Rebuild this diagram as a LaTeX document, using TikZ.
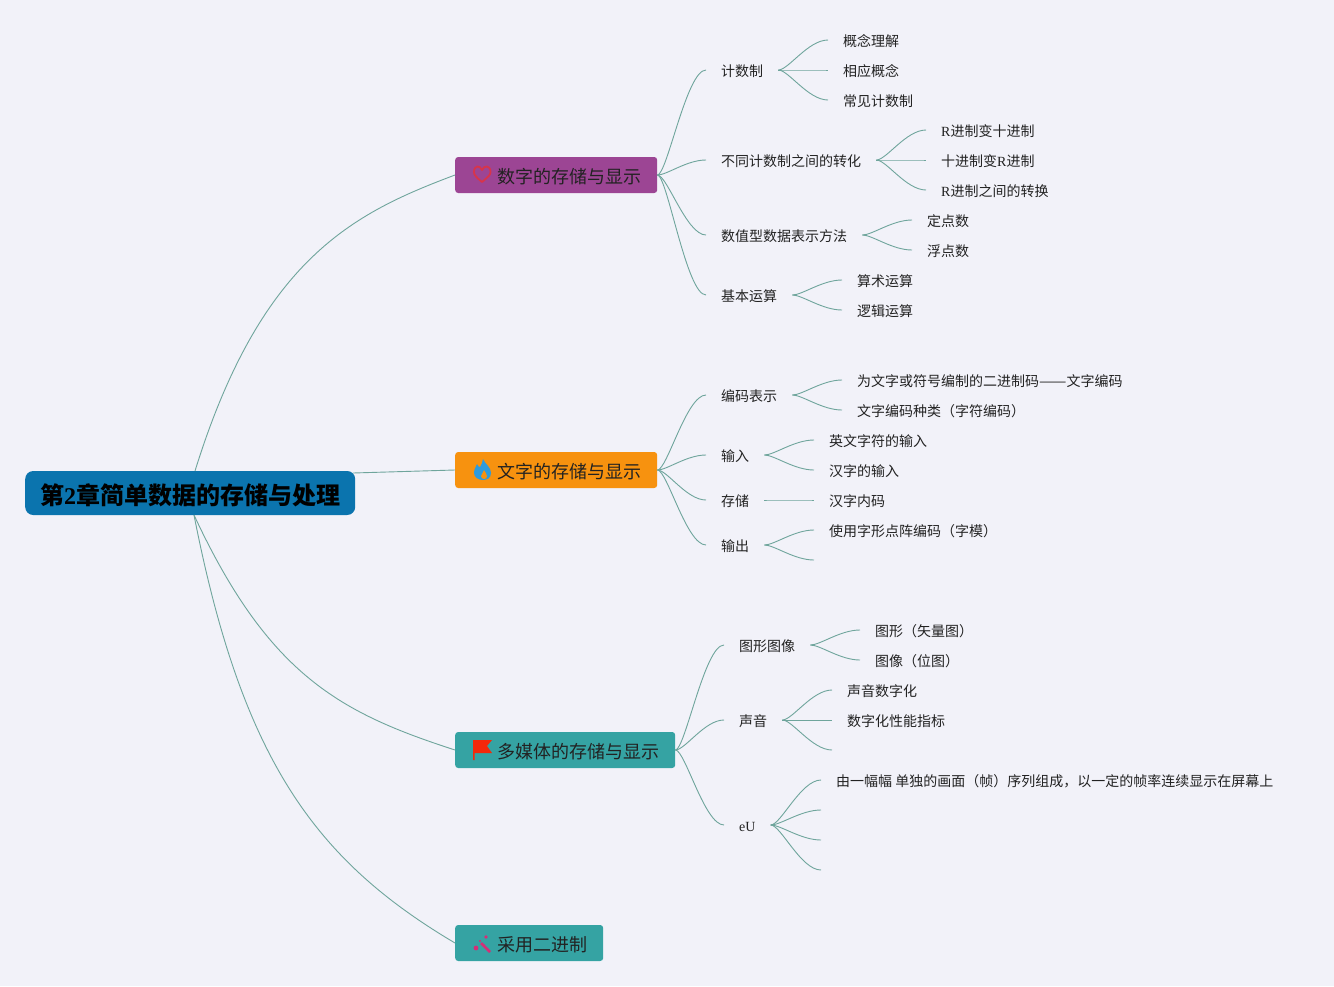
\documentclass[tikz,border=0pt]{standalone}
\usepackage{fontspec}
\setmainfont{Noto Sans CJK SC}
\newfontfamily\latinfont{Liberation Serif}
\usetikzlibrary{positioning,calc}
\definecolor{pozadina}{HTML}{F2F2F9}
\definecolor{grana}{HTML}{6FA59C}
\definecolor{tekst}{HTML}{222222}
\definecolor{rootblue}{HTML}{0B74AE}
\definecolor{topicpurple}{HTML}{9C4594}
\definecolor{topicorange}{HTML}{F7920F}
\definecolor{topicteal}{HTML}{35A3A3}
\definecolor{heartred}{HTML}{D8344A}
\definecolor{flameblue}{HTML}{2E9BDC}
\definecolor{flagred}{HTML}{F5280A}
\definecolor{wandpink}{HTML}{D42E77}
\tikzset{
	leaf/.style={anchor=west, inner xsep=15pt, inner ysep=0pt, font=\fontsize{14}{16}\selectfont, text=tekst, text height=15pt, text depth=2pt},
	topic/.style={anchor=west, rounded corners=3pt, inner xsep=16pt, inner ysep=0pt, minimum height=36pt, font=\fontsize{18}{20}\selectfont, text=tekst, text height=21pt, text depth=3.4pt, execute at begin node={\hspace*{26pt}}},
	branch/.style={draw=grana, line width=0.9pt},
	fan/.style={branch, to path={let \p1=(\tikztostart), \p2=(\tikztotarget) in .. controls ({\x1+0.2*(\x2-\x1)},\y1) and ({\x1+0.6*(\x2-\x1)},\y2) .. (\tikztotarget)}}
}
\begin{document}
\begin{tikzpicture}[x=1pt, y=-1pt]
	\fill[pozadina] (0,0) rectangle (1334,986);
	\useasboundingbox (0,0) rectangle (1334,986);

	%root
	\node[anchor=west, rounded corners=8pt, fill=rootblue, minimum height=44pt, inner xsep=15pt, inner ysep=0pt, text=black, font=\fontsize{24}{26}\selectfont\bfseries, text height=27pt, text depth=4pt] (root) at (25,493) {第{\latinfont 2}章简单数据的存储与处理};
	\coordinate (rootup) at (195,471);
	\coordinate (rootdown) at (194,515);
	\coordinate (rootright) at (353,473);

	%topics
	\node[topic, fill=topicpurple] (shuzi) at (455,175) {数字的存储与显示};
	\node[topic, fill=topicorange] (wenzi) at (455,470) {文字的存储与显示};
	\node[topic, fill=topicteal] (duomeiti) at (455,750) {多媒体的存储与显示};
	\node[topic, fill=topicteal] (caiyong) at (455,943) {采用二进制};

	\draw[branch] (rootup) .. controls (261,258) and (354,213) .. (shuzi.west);
	\draw[branch] (rootright) -- (wenzi.west);
	\draw[branch] (rootdown) .. controls (269,676) and (341,713) .. (duomeiti.west);
	\draw[branch] (rootdown) .. controls (242,760) and (315,860) .. (caiyong.west);

	%icons
	\draw[line width=1.8pt, draw=heartred, line join=round] (482,182) .. controls (476,177) and (474,175) .. (474,172) .. controls (474,165) and (480,165) .. (482,170) .. controls (484,165) and (490.5,165) .. (490.5,172) .. controls (490.5,175) and (488,177) .. (482,182) -- cycle;
	\fill[flameblue] (483,459) .. controls (485,464) and (491,467) .. (491,473) .. controls (491,478) and (487,480) .. (483,480) .. controls (478,480) and (474,477) .. (474,473) .. controls (474,469) and (476,467) .. (477,464) .. controls (478,466) and (479,467) .. (480,467) .. controls (481,465) and (483,462) .. (483,459) -- cycle;
	\fill[topicorange] (484,470) .. controls (484,472) and (481,474) .. (481,476) .. controls (481,478) and (482.5,479) .. (484,479) .. controls (486,479) and (487,478) .. (487,476) .. controls (487,474) and (485,472) .. (484,470) -- cycle;
	\fill[flagred] (473,740) -- (492,740) -- (487,746) -- (492,753) -- (474.5,753) -- (474.5,760) -- (473,760) -- cycle;
	\draw[line width=2.5pt, draw=wandpink] (481,943) -- (490,952);
	\fill[wandpink] (486,937) circle (1.8) (476,948) circle (2.4) (480,941) circle (1.2) (484,945) circle (0.8);

	%digits
	\node[leaf] (jishu) at (706,70) {计数制};
	\node[leaf] (gainian) at (828,40) {概念理解};
	\node[leaf] (xiangying) at (828,70) {相应概念};
	\node[leaf] (changjian) at (828,100) {常见计数制};
	\node[leaf] (zhuanhua) at (706,160) {不同计数制之间的转化};
	\node[leaf] (rshi) at (926,130) {{\latinfont R}进制变十进制};
	\node[leaf] (shir) at (926,160) {十进制变{\latinfont R}进制};
	\node[leaf] (rr) at (926,190) {{\latinfont R}进制之间的转换};
	\node[leaf] (shuzhi) at (706,235) {数值型数据表示方法};
	\node[leaf] (dingdian) at (912,220) {定点数};
	\node[leaf] (fudian) at (912,250) {浮点数};
	\node[leaf] (jiben) at (706,295) {基本运算};
	\node[leaf] (suanshu) at (842,280) {算术运算};
	\node[leaf] (luoji) at (842,310) {逻辑运算};

	\draw[fan] (shuzi.east) to (jishu.west);
	\draw[fan] (shuzi.east) to (zhuanhua.west);
	\draw[fan] (shuzi.east) to (shuzhi.west);
	\draw[fan] (shuzi.east) to (jiben.west);
	\draw[fan] (jishu.east) to (gainian.west);
	\draw[fan] (jishu.east) to (xiangying.west);
	\draw[fan] (jishu.east) to (changjian.west);
	\draw[fan] (zhuanhua.east) to (rshi.west);
	\draw[fan] (zhuanhua.east) to (shir.west);
	\draw[fan] (zhuanhua.east) to (rr.west);
	\draw[fan] (shuzhi.east) to (dingdian.west);
	\draw[fan] (shuzhi.east) to (fudian.west);
	\draw[fan] (jiben.east) to (suanshu.west);
	\draw[fan] (jiben.east) to (luoji.west);

	%text
	\node[leaf] (bianma) at (706,395) {编码表示};
	\node[leaf] (wenzibianma) at (842,380) {为文字或符号编制的二进制码\scalebox{1.167}[1]{——}文字编码};
	\node[leaf] (zhonglei) at (842,410) {文字编码种类（字符编码）};
	\node[leaf] (shuru) at (706,455) {输入};
	\node[leaf] (yingwen) at (814,440) {英文字符的输入};
	\node[leaf] (hanzi) at (814,470) {汉字的输入};
	\node[leaf] (cunchu) at (706,500) {存储};
	\node[leaf] (neima) at (814,500) {汉字内码};
	\node[leaf] (shuchu) at (706,545) {输出};
	\node[leaf] (zimo) at (814,530) {使用字形点阵编码（字模）};
	\coordinate (shuchuend) at (814,560);

	\draw[fan] (wenzi.east) to (bianma.west);
	\draw[fan] (wenzi.east) to (shuru.west);
	\draw[fan] (wenzi.east) to (cunchu.west);
	\draw[fan] (wenzi.east) to (shuchu.west);
	\draw[fan] (bianma.east) to (wenzibianma.west);
	\draw[fan] (bianma.east) to (zhonglei.west);
	\draw[fan] (shuru.east) to (yingwen.west);
	\draw[fan] (shuru.east) to (hanzi.west);
	\draw[fan] (cunchu.east) to (neima.west);
	\draw[fan] (shuchu.east) to (zimo.west);
	\draw[fan] (shuchu.east) to (shuchuend);

	%media
	\node[leaf] (tuxing) at (724,645) {图形图像};
	\node[leaf] (shiliang) at (860,630) {图形（矢量图）};
	\node[leaf] (weitu) at (860,660) {图像（位图）};
	\node[leaf] (shengyin) at (724,720) {声音};
	\node[leaf] (shuzihua) at (832,690) {声音数字化};
	\node[leaf] (xingneng) at (832,720) {数字化性能指标};
	\coordinate (shengyinend) at (832,750);
	\node[leaf] (eu) at (724,825) {\latinfont eU};
	\node[leaf] (zhen) at (821,780) {由一幅幅 单独的画面（帧）序列组成，以一定的帧率连续显示在屏幕上};
	\coordinate (euend1) at (821,810);
	\coordinate (euend2) at (821,840);
	\coordinate (euend3) at (821,870);

	\draw[fan] (duomeiti.east) to (tuxing.west);
	\draw[fan] (duomeiti.east) to (shengyin.west);
	\draw[fan] (duomeiti.east) to (eu.west);
	\draw[fan] (tuxing.east) to (shiliang.west);
	\draw[fan] (tuxing.east) to (weitu.west);
	\draw[fan] (shengyin.east) to (shuzihua.west);
	\draw[fan] (shengyin.east) to (xingneng.west);
	\draw[fan] (shengyin.east) to (shengyinend);
	\draw[fan] (eu.east) to (zhen.west);
	\draw[fan] (eu.east) to (euend1);
	\draw[fan] (eu.east) to (euend2);
	\draw[fan] (eu.east) to (euend3);
\end{tikzpicture}
\end{document}
